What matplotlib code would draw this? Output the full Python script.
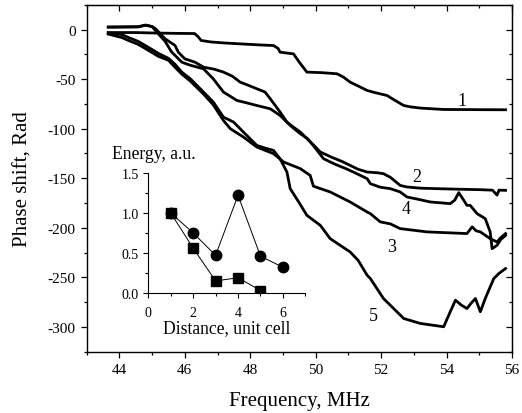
import matplotlib
matplotlib.use("Agg")
import matplotlib.pyplot as plt
from matplotlib.ticker import MultipleLocator

plt.rcParams['font.family'] = ['Liberation Serif', 'DejaVu Serif']
plt.rcParams['axes.unicode_minus'] = False

# ---- main curves: frequency (MHz) and phase shift (Rad) ----
f1 = [43.66, 44.5, 45.1, 45.7, 46.3, 46.4, 46.5, 46.8, 47.2, 47.69, 48.3, 48.71, 48.85, 48.91,
      49.32, 49.5, 49.73, 50.2, 50.65, 50.85, 51.05, 51.3, 51.57, 51.8, 52.18, 52.4, 52.69, 52.9,
      53.2, 53.5, 53.91, 54.5, 55.0, 55.8]
p1 = [-3, -3, -3.5, -3.8, -4, -7, -11, -12.5, -13.5, -14.4, -15.5, -16.1, -19, -22.8,
      -24.5, -33, -42.9, -43.5, -44.6, -48, -53, -57, -61.4, -63.5, -66.5, -71, -76.6, -78,
      -79.2, -79.8, -80.6, -80.7, -80.8, -80.9]

f2 = [43.66, 44.58, 44.8, 45.0, 45.1, 45.4, 45.7, 45.8, 46.0, 46.31, 46.57, 46.9, 47.18, 47.45,
      47.69, 48.0, 48.2, 48.45, 48.61, 48.75, 48.91, 49.12, 49.3, 49.53, 49.73, 49.95, 50.14,
      50.5, 50.8, 51.05, 51.3, 51.57, 51.9, 52.07, 52.28, 52.58, 52.79, 53.2, 53.71, 54.3, 55.0,
      55.4, 55.54, 55.6, 55.8]
p2 = [2.5, 2.8, 4.5, 3, 1, -9.4, -16, -22.8, -29.5, -32.9, -37.9, -40, -42.9, -47,
      -53, -57, -59.7, -63, -69.8, -76, -83.2, -93.3, -98, -103.4, -110, -117, -123.5,
      -129, -133, -137, -141, -143.7, -144.5, -145.4, -149, -157.2, -158.8, -160, -160.5, -161, -161.5,
      -162, -167, -162, -162.2]

f3 = [43.66, 44.07, 44.28, 44.58, 44.89, 45.19, 45.5, 45.7, 45.91, 46.17, 46.57, 46.87, 47.18,
      47.39, 47.79, 48.2, 48.71, 49.02, 49.53, 49.83, 49.93, 50.44, 51.05, 51.57, 51.67, 51.97,
      52.28, 52.58, 53.4, 54.62, 54.78, 54.9, 55.03, 55.33, 55.54, 55.65, 55.8]
p3 = [-4.5, -8, -11, -15, -21, -27, -31, -38, -45, -52, -65, -76, -91.7,
      -100, -108.4, -118.5, -125.2, -133.6, -140.3, -147.1, -158, -163.8, -173.9, -184, -185.7, -194,
      -196, -200.8, -204.1, -205.8, -199, -203, -204.1, -210.9, -214.3, -210, -205.8]

f4 = [43.66, 44.58, 44.8, 45.0, 45.19, 45.4, 45.6, 45.91, 46.17, 46.57, 46.87, 47.18, 47.59,
      47.9, 48.2, 48.61, 48.91, 49.22, 49.53, 49.75, 49.95, 50.24, 50.6, 50.9, 51.15, 51.57,
      51.67, 51.97, 52.28, 52.58, 52.79, 53.1, 53.5, 54.11, 54.25, 54.37, 54.5, 54.62, 54.72,
      54.93, 55.18, 55.33, 55.39, 55.54, 55.65, 55.8]
p4 = [2.5, 2.8, 4.5, 3, -4.3, -12, -22.8, -32.9, -36, -39.6, -49.7, -63, -71.5,
      -74, -76.6, -79.9, -86.6, -96.7, -105.1, -110, -118, -130.3, -136, -140, -143.7, -150.4,
      -155.5, -159, -160.5, -163.8, -168.9, -171, -173.9, -175.6, -172, -164.5, -171, -177.3, -177.3,
      -185.7, -190.7, -204.1, -221, -217.6, -212, -207.6]

f5 = [43.66, 44.07, 44.28, 44.58, 44.89, 45.19, 45.5, 45.7, 45.91, 46.17, 46.57, 46.87, 47.18,
      47.49, 47.79, 48.2, 48.5, 48.71, 48.91, 49.12, 49.22, 49.5, 49.73, 50.14, 50.44, 51.05,
      51.3, 51.57, 51.67, 52.07, 52.69, 53.2, 53.91, 54.11, 54.27, 54.45, 54.62, 54.75, 54.88,
      55.03, 55.18, 55.44, 55.6, 55.8]
p5 = [-3.5, -5, -8, -12, -18, -24, -29, -35, -43, -49.7, -63, -73.1, -88.3,
      -93.3, -103.4, -116.9, -120, -121.9, -130.3, -143.7, -160.5, -175, -187.4, -197.5, -210.9, -224.3,
      -233, -247.8, -251.2, -271.3, -291.5, -296.5, -299.8, -284.7, -273, -278, -281.4, -276, -271.3,
      -284.7, -271.3, -251.2, -246, -241.1]

curve_labels = ["1", "2", "3", "4", "5"]
label_pos = [(54.47, -71.5), (53.09, -148.7), (52.33, -219.2), (52.77, -180.6), (51.77, -288)]

# ---- inset data ----
dist_circ = [1, 2, 3, 4, 5, 6]
energy_circ = [1.0, 0.75, 0.47, 1.22, 0.46, 0.32]
dist_sq = [1, 2, 3, 4, 5]
energy_sq = [1.0, 0.56, 0.15, 0.19, 0.03]

fig = plt.figure(figsize=(5.22, 4.14), dpi=100)
ax = fig.add_axes([0.166, 0.148, 0.815, 0.838])

for fx, px in [(f1, p1), (f2, p2), (f3, p3), (f4, p4), (f5, p5)]:
    ax.plot(fx, px, color='black', lw=2.0, solid_joinstyle='round')

for lab, (x, y) in zip(curve_labels, label_pos):
    ax.text(x, y, lab, fontsize=13, ha='center', va='center')

ax.set_xlim(43, 56)
ax.set_ylim(-325, 25)
ax.xaxis.set_major_locator(MultipleLocator(2))
ax.xaxis.set_minor_locator(MultipleLocator(1))
ax.yaxis.set_major_locator(MultipleLocator(50))
ax.yaxis.set_minor_locator(MultipleLocator(25))
ax.tick_params(which='both', direction='out', labelsize=11, top=False, right=False)
ax.tick_params(which='major', length=4.5, width=0.9)
ax.tick_params(which='minor', length=2.5, width=0.9)
# mirrored inward ticks on the right and top
ax2 = ax.secondary_yaxis('right')
ax2.yaxis.set_major_locator(MultipleLocator(50))
ax2.yaxis.set_minor_locator(MultipleLocator(25))
ax2.tick_params(which='both', direction='in', labelright=False)
ax2.tick_params(which='major', length=4.5, width=0.9)
ax2.tick_params(which='minor', length=2.5, width=0.9)
ax3 = ax.secondary_xaxis('top')
ax3.xaxis.set_major_locator(MultipleLocator(2))
ax3.xaxis.set_minor_locator(MultipleLocator(1))
ax3.tick_params(which='both', direction='in', labeltop=False)
ax3.tick_params(which='major', length=4.5, width=0.9)
ax3.tick_params(which='minor', length=2.5, width=0.9)
for s in ax.spines.values():
    s.set_linewidth(1.0)

ax.set_xlabel("Frequency, MHz", fontsize=15, labelpad=11)
ax.set_ylabel("Phase shift, Rad", fontsize=15, labelpad=11)

# ---- inset ----
axi = fig.add_axes([0.284, 0.29, 0.301, 0.29])
axi.plot(dist_circ, energy_circ, color='black', lw=0.7, marker='o', ms=7.5)
axi.plot(dist_sq, energy_sq, color='black', lw=0.7, marker='s', ms=6.5)
axi.set_xlim(0, 7)
axi.set_ylim(0, 1.5)
axi.spines['top'].set_visible(False)
axi.spines['right'].set_visible(False)
axi.patch.set_alpha(0)
axi.xaxis.set_major_locator(MultipleLocator(2))
axi.xaxis.set_minor_locator(MultipleLocator(1))
axi.yaxis.set_major_locator(MultipleLocator(0.5))
axi.yaxis.set_minor_locator(MultipleLocator(0.25))
axi.yaxis.set_major_formatter(matplotlib.ticker.FormatStrFormatter('%.1f'))
axi.tick_params(which='both', direction='out', labelsize=10, width=0.8)
axi.tick_params(axis='x', which='major', pad=6)
axi.tick_params(which='major', length=3.5)
axi.tick_params(which='minor', length=2)
axi.set_xlabel("Distance, unit cell", fontsize=12.7, labelpad=0)
fig.text(0.214, 0.626, "Energy, a.u.", fontsize=12.7, ha='left', va='center')

fig.savefig("out.png", dpi=100)
